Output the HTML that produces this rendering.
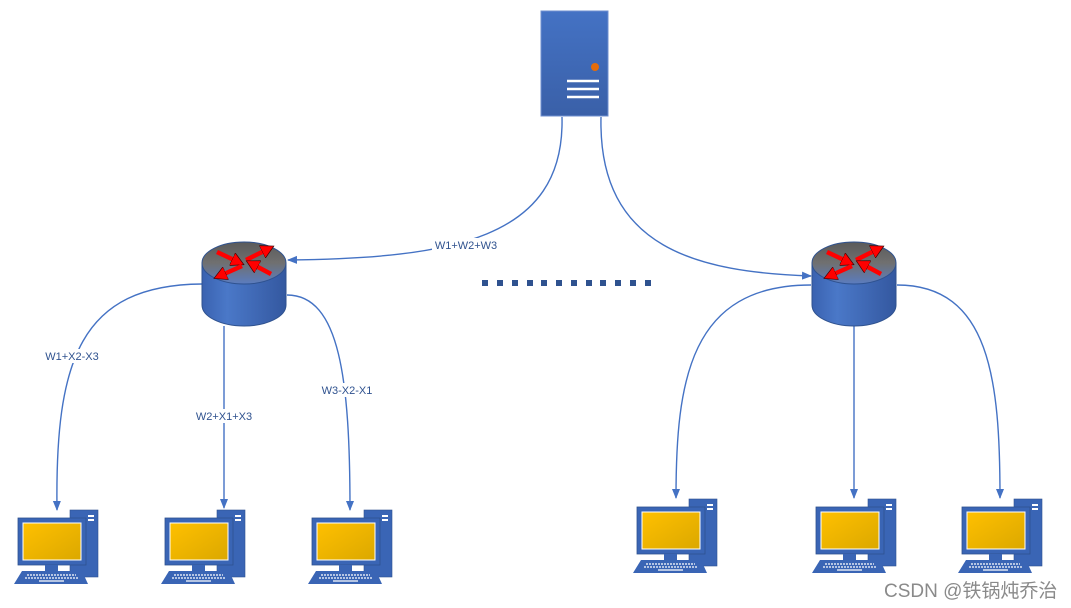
<!DOCTYPE html>
<html><head><meta charset="utf-8"><style>
body{margin:0;background:#fff;width:1071px;height:608px;overflow:hidden}
svg{display:block}
text{font-family:"Liberation Sans",sans-serif}
</style></head><body>
<svg width="1071" height="608" viewBox="0 0 1071 608" xmlns="http://www.w3.org/2000/svg">
<defs>
<linearGradient id="srv" x1="0" y1="0" x2="0" y2="1"><stop offset="0" stop-color="#4472c4"/><stop offset="1" stop-color="#3a60a8"/></linearGradient>
<linearGradient id="body" x1="0" y1="0" x2="1" y2="0"><stop offset="0" stop-color="#3a62b0"/><stop offset="0.3" stop-color="#4a78c8"/><stop offset="1" stop-color="#3458a0"/></linearGradient>
<linearGradient id="top" x1="0" y1="0" x2="0" y2="1"><stop offset="0" stop-color="#5a5a5a"/><stop offset="0.5" stop-color="#707070"/><stop offset="1" stop-color="#5b7cc0"/></linearGradient>
<linearGradient id="scr" x1="0" y1="0" x2="1" y2="1"><stop offset="0" stop-color="#ffc000"/><stop offset="1" stop-color="#dba800"/></linearGradient>
<marker id="ar" markerWidth="10" markerHeight="10" refX="9" refY="5" orient="auto" markerUnits="userSpaceOnUse"><path d="M0,1 L10,5 L0,9 z" fill="#4472c4"/></marker>
<marker id="rh" markerWidth="14" markerHeight="14" refX="2" refY="7" orient="auto" markerUnits="userSpaceOnUse"><path d="M0,0 L13,7 L0,14 z" fill="#f00" stroke="#400" stroke-width="0.7"/></marker>
<g id="router">
<path d="M-42,0 L-42,42 A42,21 0 0 0 42,42 L42,0 Z" fill="url(#body)" stroke="#2f528f" stroke-width="1"/>
<ellipse cx="0" cy="0" rx="42" ry="21" fill="url(#top)" stroke="#2f528f" stroke-width="1"/>
<g stroke="#f00" stroke-width="4.5" marker-end="url(#rh)">
<line x1="-27" y1="-11" x2="-10" y2="-3"/>
<line x1="2" y1="-3" x2="20" y2="-12"/>
<line x1="-2" y1="3" x2="-20" y2="11"/>
<line x1="27" y1="11" x2="12" y2="3"/>
</g>
</g>
<g id="pc">
<rect x="56" y="0" width="28" height="67" fill="#3a65b5" stroke="#2f528f" stroke-width="0.6"/>
<rect x="74" y="5" width="6" height="2" fill="#fff"/><rect x="74" y="9" width="6" height="2" fill="#fff"/>
<rect x="4" y="8" width="68" height="47" fill="#3a65b5" stroke="#2f528f" stroke-width="0.8"/>
<rect x="9" y="13" width="58" height="37" fill="url(#scr)" stroke="#fff" stroke-width="1"/>
<rect x="31" y="55" width="13" height="6" fill="#3a65b5"/>
<path d="M8,61 L68,61 L74,74 L0,74 Z" fill="#3a65b5"/>
<g stroke="#fff" stroke-width="1.2" stroke-dasharray="2,1"><line x1="13" y1="65" x2="62" y2="65"/><line x1="11" y1="68" x2="64" y2="68"/></g>
<line x1="25" y1="71" x2="50" y2="71" stroke="#fff" stroke-width="1.2"/>
</g>
</defs>

<rect x="541" y="11" width="67" height="105" fill="url(#srv)" stroke="#6f8fcf" stroke-width="1"/>
<circle cx="595" cy="67" r="4" fill="#e46c0a"/>
<g stroke="#fff" stroke-width="2.5"><line x1="567" y1="81" x2="599" y2="81"/><line x1="567" y1="89" x2="599" y2="89"/><line x1="567" y1="97" x2="599" y2="97"/></g>

<g fill="none" stroke="#4472c4" stroke-width="1.4">
<path d="M562,117 C565,240 450,258 288,260" marker-end="url(#ar)"/>
<path d="M601,117 C598,250 700,272 811,276" marker-end="url(#ar)"/>
<path d="M202,284 C80,285 55,360 57,510" marker-end="url(#ar)"/>
<path d="M224,326 L224,508" marker-end="url(#ar)"/>
<path d="M287,295 C340,295 350,380 350,510" marker-end="url(#ar)"/>
<path d="M811,285 C690,285 676,380 676,498" marker-end="url(#ar)"/>
<path d="M854,326 L854,498" marker-end="url(#ar)"/>
<path d="M897,285 C990,285 1000,380 1000,498" marker-end="url(#ar)"/>
</g>

<use href="#router" x="244" y="263"/>
<use href="#router" x="854" y="263"/>

<g font-size="11" fill="#2f528f" text-anchor="middle">
<rect x="432" y="238" width="68" height="14" fill="#fff"/><text x="466" y="249">W1+W2+W3</text>
<rect x="44" y="349" width="56" height="14" fill="#fff"/><text x="72" y="360">W1+X2-X3</text>
<rect x="196" y="409" width="58" height="14" fill="#fff"/><text x="224" y="420">W2+X1+X3</text>
<rect x="320" y="383" width="54" height="14" fill="#fff"/><text x="347" y="394">W3-X2-X1</text>
</g>

<g fill="#2f528f">
<rect x="482" y="280" width="6" height="6"/><rect x="497" y="280" width="6" height="6"/><rect x="512" y="280" width="6" height="6"/><rect x="527" y="280" width="6" height="6"/><rect x="541" y="280" width="6" height="6"/><rect x="556" y="280" width="6" height="6"/><rect x="571" y="280" width="6" height="6"/><rect x="586" y="280" width="6" height="6"/><rect x="600" y="280" width="6" height="6"/><rect x="615" y="280" width="6" height="6"/><rect x="630" y="280" width="6" height="6"/><rect x="645" y="280" width="6" height="6"/>
</g>

<use href="#pc" x="14" y="510"/>
<use href="#pc" x="161" y="510"/>
<use href="#pc" x="308" y="510"/>
<use href="#pc" x="633" y="499"/>
<use href="#pc" x="812" y="499"/>
<use href="#pc" x="958" y="499"/>

<text x="884" y="597" font-size="19" fill="#8a8a8a" style='font-family:"Liberation Sans","Noto Sans CJK SC",sans-serif'>CSDN @铁锅炖乔治</text>
</svg>
</body></html>
